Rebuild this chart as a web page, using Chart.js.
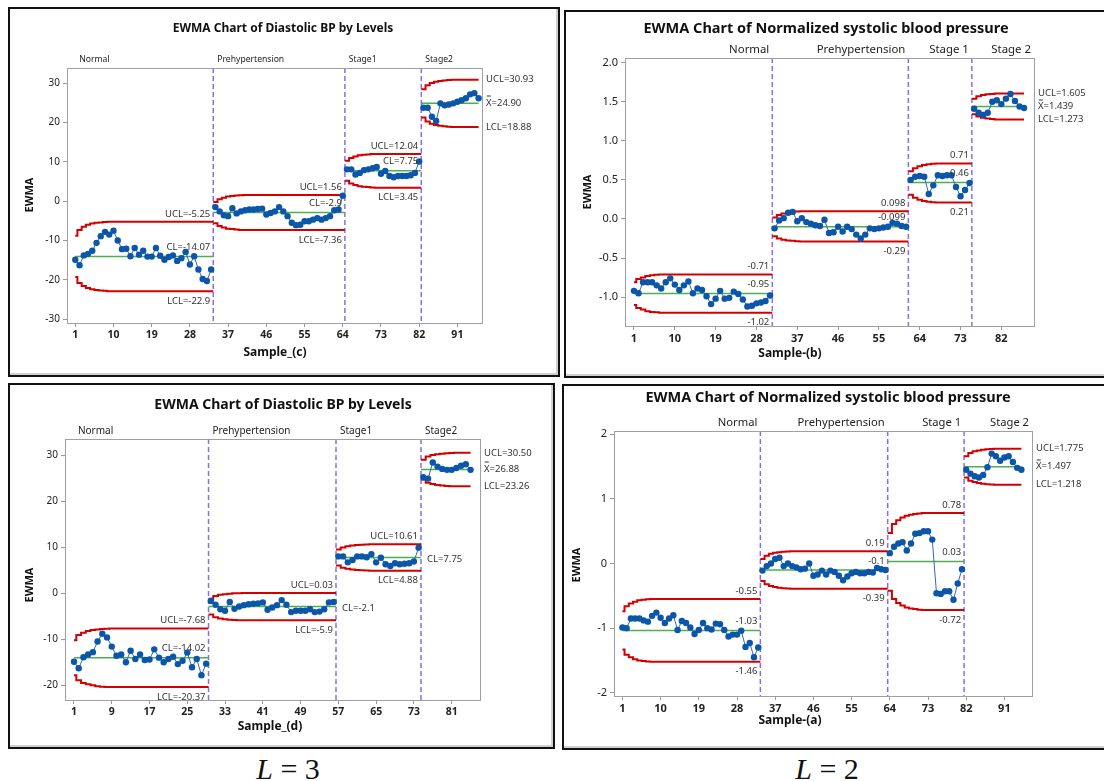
<!DOCTYPE html>
<html>
<head>
<meta charset="utf-8">
<script src="https://cdn.jsdelivr.net/npm/chart.js@4.4.0/dist/chart.umd.min.js"></script>
<style>
  body { margin: 0; background: #fff; width: 1104px; height: 781px; position: relative; overflow: hidden; }
  .box { position: absolute; border: 2px solid #111; box-sizing: border-box; box-shadow: inset -2px -2px 0 #d0d0d0; }
  canvas { position: absolute; }
  .lab { position: absolute; top: 754px; width: 120px; text-align: center; font-family: "Liberation Serif", serif; font-size: 30px; line-height: 30px; color: #111; }
</style>
</head>
<body>
<div class="box" style="left:8px;top:7px;width:552px;height:370px"></div>
<div class="box" style="left:564px;top:10px;width:560px;height:368px"></div>
<div class="box" style="left:8px;top:383px;width:547px;height:366px"></div>
<div class="box" style="left:562px;top:384px;width:560px;height:366px"></div>
<canvas id="dbpC"></canvas>
<canvas id="sbpB"></canvas>
<canvas id="dbpD"></canvas>
<canvas id="sbpA"></canvas>
<div class="lab" style="left:228px"><i>L</i> = 3</div>
<div class="lab" style="left:767px"><i>L</i> = 2</div>
<script>
// ---- Diastolic BP, L=3, Sample_(c) ----
const dbpCStarts = [1, 34, 65, 83];
const dbpCEwma = [
  -14.9, -16.3, -13.8, -13.4, -12.6, -10.6, -8.9, -7.8, -8.5, -7.5,
  -10.0, -12.2, -12.1, -14.0, -11.9, -13.6, -12.6, -14.1, -14.1, -11.9,
  -13.9, -14.9, -14.2, -13.8, -15.2, -14.5, -12.9, -16.1, -14.0, -17.4,
  -19.8, -20.3, -17.4,
  -1.5, -2.6, -3.6, -3.8, -1.8, -3.1, -2.6, -2.3, -2.1, -2.1,
  -2.0, -1.9, -3.4, -3.0, -2.6, -1.5, -2.6, -3.8, -5.5, -6.1,
  -6.0, -5.1, -5.1, -4.7, -4.3, -4.7, -4.3, -3.8, -2.3, -2.1,
  1.4,
  8.1, 8.1, 6.8, 7.2, 7.9, 8.1, 8.4, 8.7, 7.0, 7.7, 6.4, 6.1, 6.4, 6.4, 6.4, 6.6, 7.2, 10.1,
  23.8, 23.8, 21.5, 20.4, 24.9, 24.4, 24.6, 24.9, 25.3, 25.7, 26.2, 27.2, 27.5, 26.2
];
const dbpCCl = [-14.07, -2.9, 7.75, 24.90];
const dbpCUcl = [
  [-8.8, -7.3, -6.5, -6.0, -5.7, -5.5, -5.4, -5.3, -5.25],
  [-0.2, 0.5, 0.9, 1.2, 1.35, 1.45, 1.5, 1.56],
  [10.3, 11.0, 11.4, 11.7, 11.8, 11.9, 12.0, 12.04],
  [28.5, 29.5, 30.1, 30.4, 30.6, 30.75, 30.85, 30.93]
];
const dbpCLcl = [
  [-19.3, -20.8, -21.6, -22.1, -22.4, -22.6, -22.7, -22.8, -22.9],
  [-5.6, -6.3, -6.7, -7.0, -7.1, -7.2, -7.3, -7.36],
  [5.2, 4.5, 4.1, 3.8, 3.7, 3.6, 3.5, 3.45],
  [21.3, 20.3, 19.7, 19.4, 19.2, 19.05, 18.95, 18.88]
];
const dbpCStageNames = ['Normal', 'Prehypertension', 'Stage1', 'Stage2'];
const dbpCUclText = ['UCL=-5.25', 'UCL=1.56', 'UCL=12.04', 'UCL=30.93'];
const dbpCClText = ['CL=-14.07', 'CL=-2.9', 'CL=7.75', 'X\u033F=24.90'];
const dbpCLclText = ['LCL=-22.9', 'LCL=-7.36', 'LCL=3.45', 'LCL=18.88'];
const dbpCXTicks = [1, 10, 19, 28, 37, 46, 55, 64, 73, 82, 91];
const dbpCYTicks = [-30, -20, -10, 0, 10, 20, 30];

// ---- Normalized systolic BP, L=3, Sample-(b) ----
const sbpBStarts = [1, 32, 62, 76];
const sbpBEwma = [
  -0.92, -0.95, -0.81, -0.81, -0.81, -0.85, -0.89, -0.81, -0.76, -0.84,
  -0.91, -0.85, -0.80, -0.95, -0.89, -0.91, -0.99, -1.09, -1.02, -0.92,
  -1.02, -1.01, -0.93, -0.96, -1.03, -1.12, -1.11, -1.08, -1.07, -1.05,
  -0.98,
  -0.12, -0.02, 0.01, 0.08, 0.09, -0.03, 0.01, -0.04, -0.06, -0.08,
  -0.09, -0.01, -0.18, -0.17, -0.10, -0.16, -0.10, -0.13, -0.20, -0.25,
  -0.20, -0.12, -0.13, -0.12, -0.11, -0.10, -0.05, -0.06, -0.09, -0.10,
  0.50, 0.54, 0.55, 0.54, 0.32, 0.43, 0.56, 0.55, 0.56, 0.56, 0.41, 0.29, 0.37, 0.46,
  1.41, 1.36, 1.33, 1.36, 1.50, 1.52, 1.47, 1.54, 1.60, 1.51, 1.44, 1.42
];
const sbpBCl = [-0.955, -0.099, 0.465, 1.439];
const sbpBUcl = [
  [-0.81, -0.77, -0.75, -0.73, -0.72, -0.715, -0.71],
  [0.02, 0.05, 0.07, 0.08, 0.09, 0.095, 0.098],
  [0.61, 0.65, 0.675, 0.69, 0.70, 0.705, 0.71],
  [1.54, 1.57, 1.585, 1.595, 1.60, 1.605]
];
const sbpBLcl = [
  [-1.10, -1.14, -1.16, -1.18, -1.19, -1.195, -1.20],
  [-0.22, -0.25, -0.265, -0.275, -0.28, -0.285, -0.29],
  [0.31, 0.27, 0.245, 0.23, 0.22, 0.215, 0.21],
  [1.34, 1.31, 1.295, 1.285, 1.278, 1.273]
];
const sbpBStageNames = ['Normal', 'Prehypertension', 'Stage 1', 'Stage 2'];
const sbpBUclText = ['-0.71', '0.098', '0.71', 'UCL=1.605'];
const sbpBClText = ['-0.95', '-0.099', '0.46', 'X\u033F=1.439'];
const sbpBLclText = ['-1.02', '-0.29', '0.21', 'LCL=1.273'];
const sbpBXTicks = [1, 10, 19, 28, 37, 46, 55, 64, 73, 82];
const sbpBYTicks = [-1.0, -0.5, 0, 0.5, 1.0, 1.5, 2.0];

// ---- Diastolic BP, L=2, Sample_(d) ----
const dbpDStarts = [1, 30, 57, 75];
const dbpDEwma = [
  -14.9, -16.3, -13.9, -13.3, -12.8, -10.5, -8.8, -9.6, -11.6, -13.6,
  -13.3, -15.0, -12.5, -14.3, -13.3, -14.5, -14.4, -12.2, -14.0, -15.0,
  -14.3, -13.8, -15.4, -14.7, -12.9, -16.1, -14.3, -17.8, -15.3,
  -1.7, -2.5, -3.5, -3.8, -1.9, -3.4, -2.9, -2.6, -2.4, -2.3,
  -2.2, -2.0, -3.6, -3.1, -2.6, -1.5, -2.5, -4.1, -3.8, -3.8,
  -3.8, -3.5, -4.1, -4.0, -3.5, -2.0, -1.9,
  8.0, 8.0, 6.7, 7.2, 8.0, 8.0, 7.8, 8.5, 6.7, 7.7, 6.3, 5.9, 6.5, 6.3, 6.4, 6.5, 6.9, 9.9,
  25.2, 24.9, 28.4, 27.5, 27.0, 26.8, 26.8, 27.2, 27.7, 28.0, 26.8
];
const dbpDCl = [-14.02, -2.9, 7.75, 26.88];
const dbpDUcl = [
  [-10.2, -9.1, -8.6, -8.2, -8.0, -7.9, -7.8, -7.7, -7.68],
  [-1.2, -0.6, -0.35, -0.2, -0.1, -0.03, 0.0, 0.03],
  [9.5, 9.95, 10.2, 10.35, 10.45, 10.52, 10.57, 10.61],
  [29.0, 29.7, 30.0, 30.2, 30.3, 30.4, 30.45, 30.5]
];
const dbpDLcl = [
  [-17.8, -18.9, -19.5, -19.8, -20.0, -20.2, -20.3, -20.37],
  [-4.6, -5.2, -5.5, -5.65, -5.75, -5.8, -5.85, -5.9],
  [6.0, 5.55, 5.3, 5.15, 5.05, 4.98, 4.93, 4.88],
  [24.7, 24.0, 23.7, 23.5, 23.4, 23.3, 23.26]
];
const dbpDStageNames = ['Normal', 'Prehypertension', 'Stage1', 'Stage2'];
const dbpDUclText = ['UCL=-7.68', 'UCL=0.03', 'UCL=10.61', 'UCL=30.50'];
const dbpDClText = ['CL=-14.02', 'CL=-2.1', 'CL=7.75', 'X\u033F=26.88'];
const dbpDLclText = ['LCL=-20.37', 'LCL=-5.9', 'LCL=4.88', 'LCL=23.26'];
const dbpDXTicks = [1, 9, 17, 25, 33, 41, 49, 57, 65, 73, 81];
const dbpDYTicks = [-20, -10, 0, 10, 20, 30];

// ---- Normalized systolic BP, L=2, Sample-(a) ----
const sbpAStarts = [1, 34, 64, 82];
const sbpAEwma = [
  -0.99, -1.00, -0.85, -0.85, -0.85, -0.88, -0.90, -0.81, -0.76, -0.84,
  -0.92, -0.85, -0.80, -1.03, -0.89, -0.92, -0.99, -1.09, -1.03, -0.92,
  -1.00, -1.02, -0.93, -0.94, -1.03, -1.13, -1.10, -1.10, -1.04, -1.29,
  -1.23, -1.45, -1.30,
  -0.11, -0.04, 0.00, 0.07, 0.09, -0.04, 0.00, -0.04, -0.06, -0.09,
  -0.08, 0.00, -0.19, -0.17, -0.11, -0.17, -0.11, -0.13, -0.19, -0.26,
  -0.20, -0.15, -0.13, -0.15, -0.15, -0.13, -0.14, -0.07, -0.09, -0.10,
  0.16, 0.26, 0.31, 0.33, 0.20, 0.31, 0.46, 0.47, 0.50, 0.50,
  0.37, -0.46, -0.47, -0.43, -0.43, -0.56, -0.31, -0.09,
  1.45, 1.39, 1.35, 1.33, 1.37, 1.49, 1.70, 1.66, 1.59, 1.64, 1.66, 1.57, 1.48, 1.45
];
const sbpACl = [-1.035, -0.1, 0.03, 1.497];
const sbpAUcl = [
  [-0.74, -0.66, -0.62, -0.59, -0.57, -0.56, -0.555, -0.55],
  [0.07, 0.12, 0.15, 0.165, 0.175, 0.182, 0.187, 0.19],
  [0.47, 0.61, 0.67, 0.71, 0.74, 0.755, 0.765, 0.775, 0.78],
  [1.66, 1.71, 1.735, 1.75, 1.76, 1.767, 1.772, 1.775]
];
const sbpALcl = [
  [-1.33, -1.41, -1.45, -1.48, -1.50, -1.51, -1.515, -1.52],
  [-0.27, -0.32, -0.35, -0.365, -0.375, -0.382, -0.387, -0.39],
  [-0.42, -0.55, -0.61, -0.65, -0.68, -0.695, -0.705, -0.715, -0.72],
  [1.33, 1.28, 1.26, 1.245, 1.235, 1.228, 1.223, 1.218]
];
const sbpAStageNames = ['Normal', 'Prehypertension', 'Stage 1', 'Stage 2'];
const sbpAUclText = ['-0.55', '0.19', '0.78', 'UCL=1.775'];
const sbpAClText = ['-1.03', '-0.1', '0.03', 'X\u033F=1.497'];
const sbpALclText = ['-1.46', '-0.39', '-0.72', 'LCL=1.218'];
const sbpAXTicks = [1, 10, 19, 28, 37, 46, 55, 64, 73, 82, 91];
const sbpAYTicks = [-2, -1, 0, 1, 2];

const FONT = '"Noto Sans", "Open Sans", sans-serif';

function text(ctx, s, x, y, font, align, color) {
  ctx.font = font;
  ctx.fillStyle = color || '#222';
  ctx.textAlign = align || 'left';
  ctx.textBaseline = 'middle';
  ctx.fillText(s, x, y);
}

function makeDecor(d, L, cx, cy) {
  return {
    id: 'decor',
    beforeDatasetsDraw(chart) {
      const { ctx, chartArea: a } = chart;
      const xs = chart.scales.x;
      ctx.save();
      ctx.strokeStyle = '#8a6fe0';
      ctx.lineWidth = 1.5;
      ctx.setLineDash([5, 3]);
      d.starts.slice(1).forEach(s => {
        const x = xs.getPixelForValue(s - 0.5);
        ctx.beginPath();
        ctx.moveTo(x, a.top);
        ctx.lineTo(x, a.bottom);
        ctx.stroke();
      });
      ctx.restore();
    },
    afterDraw(chart) {
      const { ctx, chartArea: a } = chart;
      const xs = chart.scales.x, ys = chart.scales.y;
      const nSt = d.starts.length;
      ctx.save();
      ctx.strokeStyle = '#a0a0a0';
      ctx.lineWidth = 1;
      ctx.strokeRect(a.left + 0.5, a.top + 0.5, a.right - a.left, a.bottom - a.top);

      text(ctx, d.title, L.title[0] - cx, L.title[1] - cy, 'bold ' + L.titleSize + 'px ' + FONT, 'center', '#111');
      text(ctx, d.xTitle, L.xTitle[0] - cx, L.xTitle[1] - cy, 'bold 12px ' + FONT, 'center', '#111');
      ctx.save();
      ctx.translate(L.yTitle[0] - cx, L.yTitle[1] - cy);
      ctx.rotate(-Math.PI / 2);
      text(ctx, 'EWMA', 0, 0, 'bold 11px ' + FONT, 'center', '#111');
      ctx.restore();

      const sf = L.stageSize + 'px ' + FONT;
      const lf = '9.5px ' + FONT;
      d.stageNames.forEach((nm, i) => {
        const y = a.top - 8;
        if (L.stageAlign === 'start') {
          const x = i === 0 ? xs.getPixelForValue(1) + 4 : xs.getPixelForValue(d.starts[i] - 0.5) + 4;
          text(ctx, nm, x, y, sf, 'left', '#222');
        } else {
          const x = i < nSt - 1 ? xs.getPixelForValue(d.starts[i + 1] - 0.5) - 3 : a.right - 3;
          text(ctx, nm, x, y, sf, 'right', '#222');
        }
      });

      for (let i = 0; i < nSt; i++) {
        const u = d.ucl[i][d.ucl[i].length - 1];
        const l = d.lcl[i][d.lcl[i].length - 1];
        const c = d.cl[i];
        if (i < nSt - 1) {
          const bx = xs.getPixelForValue(d.starts[i + 1] - 0.5);
          text(ctx, d.uclText[i], bx - 3, ys.getPixelForValue(u) - 8, lf, 'right', '#333');
          if (L.clOutside && L.clOutside.includes(i)) {
            text(ctx, d.clText[i], bx + 6, ys.getPixelForValue(c) + 2, lf, 'left', '#333');
          } else {
            text(ctx, d.clText[i], bx - 3, ys.getPixelForValue(c) - 9, lf, 'right', '#333');
          }
          text(ctx, d.lclText[i], bx - 3, ys.getPixelForValue(l) + 10, lf, 'right', '#333');
        } else {
          const rx = a.right + 4;
          text(ctx, d.uclText[i], rx, ys.getPixelForValue(u), lf, 'left', '#333');
          text(ctx, d.clText[i], rx, ys.getPixelForValue(c), lf, 'left', '#333');
          text(ctx, d.lclText[i], rx, ys.getPixelForValue(l), lf, 'left', '#333');
        }
      }
      ctx.restore();
    }
  };
}

function makeChart(id, d, L) {
  const cv = document.getElementById(id);
  const cx = L.box[0] + 2, cy = L.box[1] + 2;
  const cw = Math.min(L.box[2] - 4, 1104 - cx), ch = L.box[3] - 4;
  cv.style.left = cx + 'px';
  cv.style.top = cy + 'px';
  cv.width = cw;
  cv.height = ch;

  const n = d.ewma.length;
  const nSt = d.starts.length;
  const datasets = [];
  d.starts.forEach((s, i) => {
    const e = i < nSt - 1 ? d.starts[i + 1] - 1 : n;
    const x0 = i === 0 ? s : s - 0.5;
    const x1 = i === nSt - 1 ? e : e + 0.5;
    datasets.push({
      data: d.ewma.slice(s - 1, e).map((v, k) => ({ x: s + k, y: v })),
      borderColor: '#3468b4', borderWidth: 1,
      pointRadius: 3.2, pointBackgroundColor: '#0b56a8', pointBorderWidth: 0,
      order: 0
    });
    datasets.push({
      data: [{ x: x0, y: d.cl[i] }, { x: x1, y: d.cl[i] }],
      borderColor: '#4fae4f', borderWidth: 1.5, pointRadius: 0, order: 1
    });
    [d.ucl[i], d.lcl[i]].forEach(ramp => {
      const pts = [];
      if (x0 < s) pts.push({ x: x0, y: ramp[0] });
      for (let k = s; k <= e; k++) pts.push({ x: k, y: ramp[Math.min(k - s, ramp.length - 1)] });
      if (x1 > e) pts.push({ x: x1, y: ramp[Math.min(e - s, ramp.length - 1)] });
      datasets.push({
        data: pts, stepped: 'middle',
        borderColor: '#d40000', borderWidth: 2, pointRadius: 0, order: 2
      });
    });
  });

  const axisCommon = {
    type: 'linear',
    grid: { drawOnChartArea: false, drawTicks: true, tickLength: 4, color: '#999' },
    border: { display: true, color: '#a0a0a0' }
  };

  return new Chart(cv, {
    type: 'line',
    data: { datasets },
    options: {
      responsive: false,
      animation: false,
      devicePixelRatio: 1,
      layout: { padding: { left: 0, bottom: 0, top: L.plot[1] - cy, right: cx + cw - L.plot[2] } },
      plugins: { legend: { display: false }, tooltip: { enabled: false }, title: { display: false } },
      scales: {
        x: Object.assign({}, axisCommon, {
          min: L.xr[0], max: L.xr[1],
          afterBuildTicks: s => { s.ticks = d.xTicks.map(v => ({ value: v })); },
          afterFit: s => { s.height = cy + ch - L.plot[3]; },
          ticks: { autoSkip: false, maxRotation: 0, padding: 2, color: '#222',
                   font: { family: FONT, size: L.xTickSize, weight: 'bold' } }
        }),
        y: Object.assign({}, axisCommon, {
          min: L.yr[0], max: L.yr[1],
          afterBuildTicks: s => { s.ticks = d.yTicks.map(v => ({ value: v })); },
          afterFit: s => { s.width = L.plot[0] - cx; },
          ticks: { autoSkip: false, padding: 3, color: '#222',
                   font: { family: FONT, size: L.yTickSize },
                   callback: v => v.toFixed(L.yDec) }
        })
      }
    },
    plugins: [makeDecor(d, L, cx, cy)]
  });
}

makeChart('dbpC', {
  starts: dbpCStarts, ewma: dbpCEwma, cl: dbpCCl, ucl: dbpCUcl, lcl: dbpCLcl,
  stageNames: dbpCStageNames, uclText: dbpCUclText, clText: dbpCClText, lclText: dbpCLclText,
  xTicks: dbpCXTicks, yTicks: dbpCYTicks,
  title: 'EWMA Chart of Diastolic BP by Levels', xTitle: 'Sample_(c)'
}, {
  box: [8, 7, 552, 370], plot: [67, 68, 482, 323], xr: [-0.95, 96.8], yr: [-31, 33.9],
  title: [283, 29], xTitle: [275, 353], yTitle: [30, 195],
  titleSize: 12, stageSize: 8.6, stageAlign: 'start', xTickSize: 10.5, yTickSize: 10, yDec: 0
});

makeChart('sbpB', {
  starts: sbpBStarts, ewma: sbpBEwma, cl: sbpBCl, ucl: sbpBUcl, lcl: sbpBLcl,
  stageNames: sbpBStageNames, uclText: sbpBUclText, clText: sbpBClText, lclText: sbpBLclText,
  xTicks: sbpBXTicks, yTicks: sbpBYTicks,
  title: 'EWMA Chart of Normalized systolic blood pressure', xTitle: 'Sample-(b)'
}, {
  box: [564, 10, 560, 368], plot: [625, 58, 1034, 326], xr: [-0.98, 89.2], yr: [-1.37, 2.06],
  title: [826, 29], xTitle: [790, 354], yTitle: [588, 192],
  titleSize: 14.5, stageSize: 11.4, stageAlign: 'end', xTickSize: 11, yTickSize: 11, yDec: 1
});

makeChart('dbpD', {
  starts: dbpDStarts, ewma: dbpDEwma, cl: dbpDCl, ucl: dbpDUcl, lcl: dbpDLcl,
  stageNames: dbpDStageNames, uclText: dbpDUclText, clText: dbpDClText, lclText: dbpDLclText,
  xTicks: dbpDXTicks, yTicks: dbpDYTicks,
  title: 'EWMA Chart of Diastolic BP by Levels', xTitle: 'Sample_(d)'
}, {
  box: [8, 383, 547, 366], plot: [65, 439, 480, 700], xr: [-0.9, 87], yr: [-23.2, 33.5],
  title: [283, 405], xTitle: [270, 727], yTitle: [30, 585],
  titleSize: 14, stageSize: 10, stageAlign: 'start', xTickSize: 10.5, yTickSize: 10, yDec: 0,
  clOutside: [1, 2]
});

makeChart('sbpA', {
  starts: sbpAStarts, ewma: sbpAEwma, cl: sbpACl, ucl: sbpAUcl, lcl: sbpALcl,
  stageNames: sbpAStageNames, uclText: sbpAUclText, clText: sbpAClText, lclText: sbpALclText,
  xTicks: sbpAXTicks, yTicks: sbpAYTicks,
  title: 'EWMA Chart of Normalized systolic blood pressure', xTitle: 'Sample-(a)'
}, {
  box: [562, 384, 560, 366], plot: [614, 431, 1032, 696], xr: [-0.98, 97.5], yr: [-2.05, 2.05],
  title: [828, 398], xTitle: [790, 721], yTitle: [577, 565],
  titleSize: 14.5, stageSize: 11.2, stageAlign: 'end', xTickSize: 11, yTickSize: 11, yDec: 0
});
</script>
</body>
</html>
